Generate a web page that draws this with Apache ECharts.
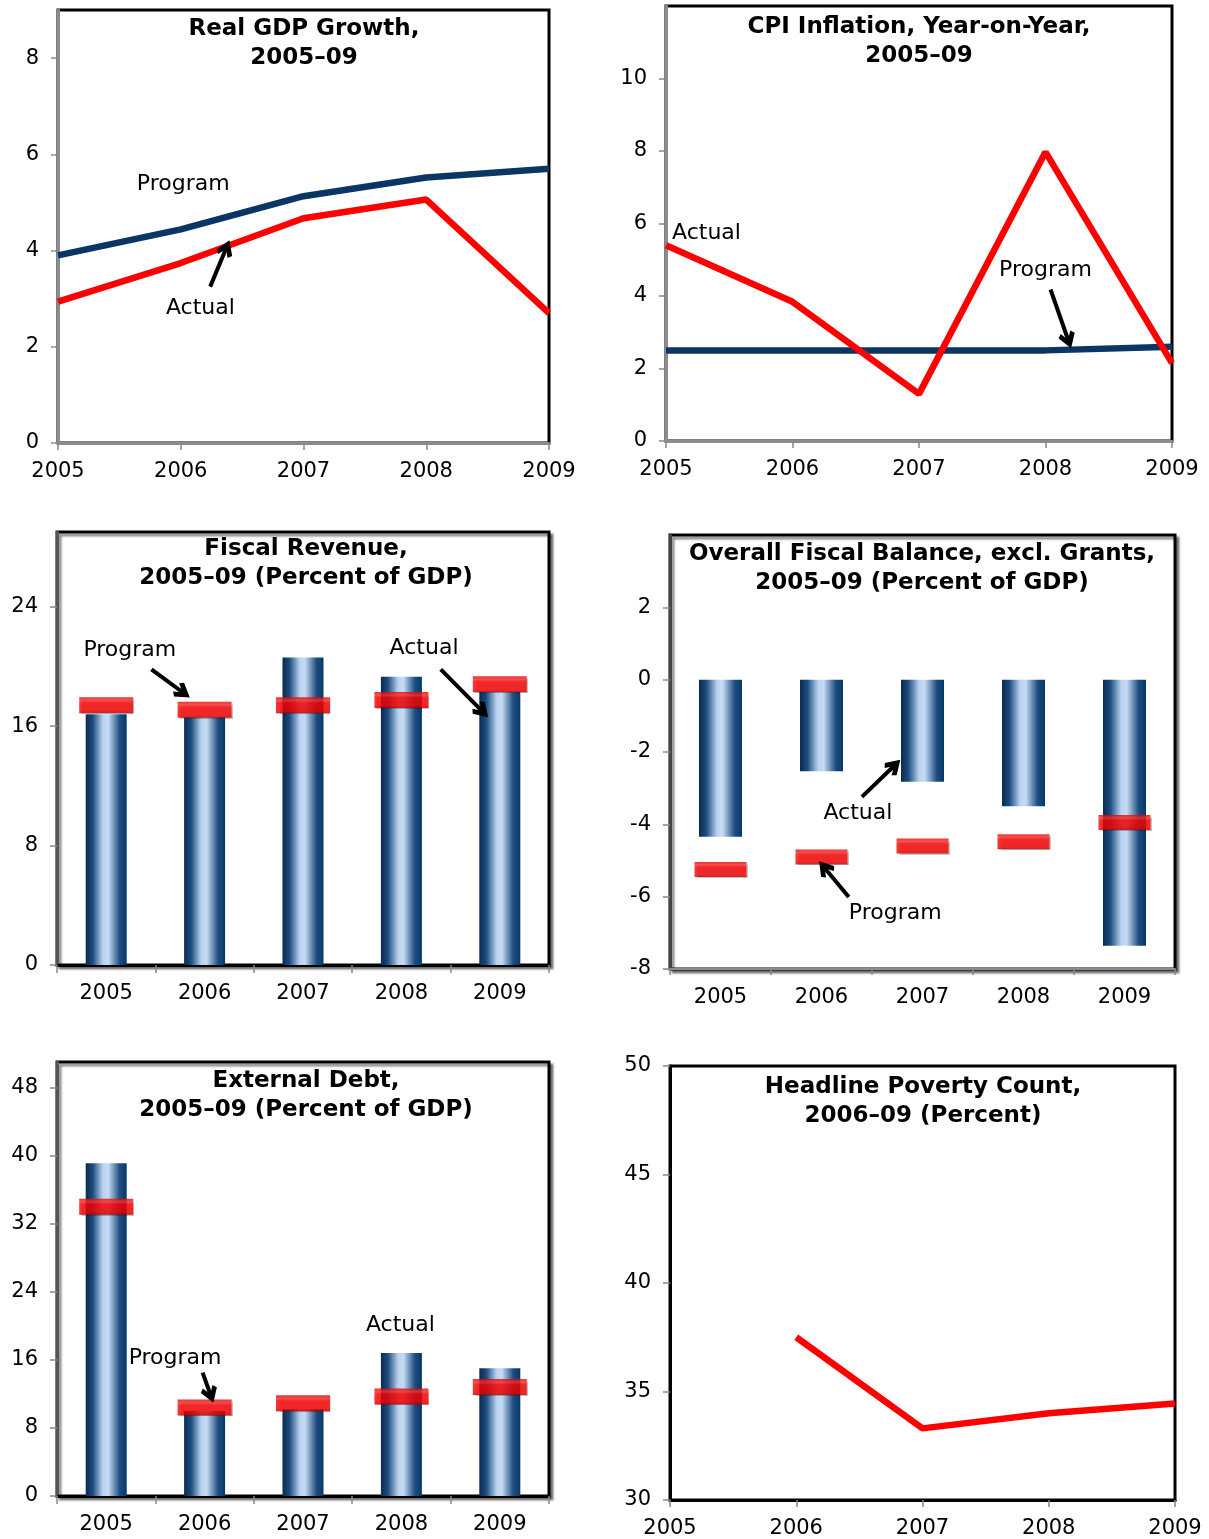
<!DOCTYPE html>
<html><head><meta charset="utf-8">
<script src="https://cdn.jsdelivr.net/npm/echarts@6/dist/echarts.min.js"></script>
<style>html,body{margin:0;padding:0;background:#fff}#c{width:1209px;height:1539px}</style>
</head><body><div id="c"></div>
<script>
// ---------------- DATA ----------------
const years = ['2005', '2006', '2007', '2008', '2009'];

const gdpProgram = [3.90, 4.44, 5.13, 5.52, 5.70];
const gdpActual  = [2.94, 3.74, 4.67, 5.06, 2.70];

const cpiActual  = [5.40, 3.84, 1.30, 7.97, 2.15];
const cpiProgram = [2.50, 2.50, 2.50, 2.50, 2.60];

const revActual  = [16.8, 16.6, 20.6, 19.3, 18.3];
const revProgram = [17.4, 17.1, 17.4, 17.75, 18.8];

const balActual  = [-4.34, -2.53, -2.82, -3.50, -7.36];
const balProgram = [-5.25, -4.90, -4.60, -4.48, -3.95];

const debtActual  = [39.1, 10.0, 10.2, 16.8, 15.0];
const debtProgram = [34.0, 10.4, 10.9, 11.7, 12.8];

const povertyActual = [null, 37.5, 33.3, 34.0, 34.45];

// axis ranges [min, max, interval]
const gdpAxis  = [0, 9, 2];
const cpiAxis  = [0, 12, 2];
const revAxis  = [0, 29, 8];
const balAxis  = [-8, 4, 2];
const debtAxis = [0, 51, 8];
const povAxis  = [30, 50, 5];

const titles = [
  'Real GDP Growth,\n2005\u201309',
  'CPI Inflation, Year-on-Year,\n2005\u201309',
  'Fiscal Revenue,\n2005\u201309 (Percent of GDP)',
  'Overall Fiscal Balance, excl. Grants,\n2005\u201309 (Percent of GDP)',
  'External Debt,\n2005\u201309 (Percent of GDP)',
  'Headline Poverty Count,\n2006\u201309 (Percent)'
];

// ---------------- LAYOUT ----------------
const FONT = 'DejaVu Sans';
const NAVY = '#0b3563';
const RED = '#ff0000';
const gridBoxes = [
  {left: 58,  top: 10,   width: 491, height: 433},
  {left: 666, top: 6,    width: 506, height: 435},
  {left: 57,  top: 532,  width: 492, height: 433},
  {left: 670, top: 535,  width: 505, height: 434},
  {left: 57,  top: 1062, width: 492, height: 434},
  {left: 670, top: 1066, width: 505, height: 434}
];
const titlePos = [[304, 44], [919, 42], [306, 564], [922, 569], [306, 1095.5], [923, 1102]];
const shadowed = [false, false, true, true, true, false];

const grid = gridBoxes.map((b, i) => Object.assign({
  show: true, borderColor: '#000', borderWidth: 3, backgroundColor: '#fff',
  containLabel: false, outerBoundsMode: 'none'
}, shadowed[i] ? {shadowColor: 'rgba(0,0,0,0.45)', shadowOffsetX: 3, shadowOffsetY: 3, shadowBlur: 2} : {}, b));

const barGrad = () => new echarts.graphic.LinearGradient(0, 0, 1, 0, [
  {offset: 0, color: '#0a2a50'}, {offset: 0.17, color: '#1c4c7e'},
  {offset: 0.42, color: '#b9d2ef'}, {offset: 0.55, color: '#c6dbf4'},
  {offset: 0.83, color: '#1d4d80'}, {offset: 1, color: '#063867'}
]);
const redGrad = () => new echarts.graphic.LinearGradient(0, 0, 0, 1, [
  {offset: 0, color: '#e40000'}, {offset: 0.2, color: '#ff3030'},
  {offset: 0.36, color: '#ff0000'}, {offset: 0.85, color: '#f80000'},
  {offset: 1, color: '#c00000'}
]);

const xAxis = [], yAxis = [], series = [];

function catAxis(g, boundaryGap, lineColor, tickOpts) {
  return {
    type: 'category', gridIndex: g, data: years, position: 'bottom', boundaryGap: boundaryGap,
    axisLine: {show: true, onZero: false, lineStyle: {color: lineColor, width: 3}},
    axisTick: Object.assign({show: true, length: 7, lineStyle: {color: '#888', width: 1.5}}, tickOpts || {}),
    axisLabel: {show: true, margin: 18, color: '#000', fontSize: 21, fontFamily: FONT, interval: 0},
    splitLine: {show: false}
  };
}
function hiddenAxis(g, boundaryGap) {
  return {type: 'value', gridIndex: g, show: false, position: 'top',
    min: boundaryGap ? -0.5 : 0, max: boundaryGap ? 4.5 : 4};
}
function valAxis(g, rng, lineColor, hideMax) {
  return {
    type: 'value', gridIndex: g, min: rng[0], max: rng[1], interval: rng[2],
    axisLine: {show: true, onZero: false, lineStyle: {color: lineColor, width: 3}},
    axisTick: {show: true, length: 7, lineStyle: {color: '#888', width: 1.5}},
    axisLabel: {show: true, margin: 19, color: '#000', fontSize: 21, fontFamily: FONT, showMaxLabel: !hideMax,
      formatter: v => (Math.abs((v - rng[0]) % rng[2]) < 1e-9 ? String(v) : '')},
    splitLine: {show: false}
  };
}
function lineSeries(g, data, color) {
  return {type: 'line', xAxisIndex: 2 * g, yAxisIndex: g, data: data, symbol: 'none', smooth: false,
    lineStyle: {color: color, width: 6.5}, z: 3, silent: true, connectNulls: false};
}
function barSeries(g, data, w) {
  return {type: 'bar', xAxisIndex: 2 * g, yAxisIndex: g, data: data, barWidth: w,
    itemStyle: {color: barGrad()}, z: 2, silent: true};
}
function markerSeries(g, data, size) {
  return {type: 'scatter', xAxisIndex: 2 * g, yAxisIndex: g, data: data, symbol: 'rect', symbolSize: size,
    itemStyle: {color: redGrad(), shadowColor: 'rgba(0,0,0,0.3)', shadowOffsetX: 1, shadowOffsetY: 1, shadowBlur: 1}, z: 4, silent: true};
}
const CHEV = 'path://M10,0 L20,11 L16,14 L10,7.5 L4,14 L0,11 Z';
function arrowSeries(g, coords) {
  return {type: 'lines', coordinateSystem: 'cartesian2d', xAxisIndex: 2 * g + 1, yAxisIndex: g,
    polyline: false, symbol: ['none', CHEV], symbolSize: 17, silent: true, z: 10,
    lineStyle: {color: '#000', width: 4, opacity: 1, curveness: 0},
    data: coords.map(c => ({coords: c}))};
}
function textSeries(g, items) {
  return {type: 'scatter', xAxisIndex: 2 * g + 1, yAxisIndex: g, symbolSize: 0.1, silent: true, z: 11,
    itemStyle: {color: '#000', opacity: 1},
    label: {show: true, position: 'inside', formatter: '{b}', color: '#000', opacity: 1,
      textBorderWidth: 0, fontSize: 22, fontFamily: FONT},
    data: items.map(t => ({name: t[0], value: [t[1], t[2]]}))};
}

// Panel 0: Real GDP growth
xAxis.push(catAxis(0, false, '#8c8c8c'), hiddenAxis(0, false));
yAxis.push(valAxis(0, gdpAxis, '#8c8c8c', true));
series.push(lineSeries(0, gdpProgram, NAVY), lineSeries(0, gdpActual, RED));
series.push(textSeries(0, [['Program', 1.02, 5.38], ['Actual', 1.16, 2.80]]));
series.push(arrowSeries(0, [[[1.24, 3.25], [1.37, 4.05]]]));

// Panel 1: CPI inflation
xAxis.push(catAxis(1, false, '#8c8c8c'), hiddenAxis(1, false));
yAxis.push(valAxis(1, cpiAxis, '#8c8c8c', true));
series.push(lineSeries(1, cpiProgram, NAVY), lineSeries(1, cpiActual, RED));
series.push(textSeries(1, [['Actual', 0.32, 5.72], ['Program', 3.0, 4.70]]));
series.push(arrowSeries(1, [[[3.04, 4.18], [3.18, 2.78]]]));

// Panel 2: Fiscal revenue
xAxis.push(catAxis(2, true, '#000', {length: 8}), hiddenAxis(2, true));
yAxis.push(valAxis(2, revAxis, '#555', true));
series.push(barSeries(2, revActual, 41), markerSeries(2, revProgram, [54, 16]));
series.push(textSeries(2, [['Program', 0.24, 21.1], ['Actual', 3.23, 21.2]]));
series.push(arrowSeries(2, [[[0.46, 19.8], [0.78, 18.25]], [[3.40, 19.8], [3.82, 17.0]]]));

// Panel 3: Overall fiscal balance
const balCat = catAxis(3, true, '#000');
balCat.axisLine.show = false; balCat.axisTick.show = false;
xAxis.push(balCat, hiddenAxis(3, true));
yAxis.push(valAxis(3, balAxis, '#444', true));
series.push(barSeries(3, balActual, 43), markerSeries(3, balProgram, [52, 15]));
series.push(textSeries(3, [['Actual', 1.36, -3.69], ['Program', 1.73, -6.46]]));
series.push(arrowSeries(3, [[[1.40, -3.24], [1.72, -2.38]], [[1.27, -6.01], [1.03, -5.2]]]));

// Panel 4: External debt
xAxis.push(catAxis(4, true, '#000', {length: 8}), hiddenAxis(4, true));
yAxis.push(valAxis(4, debtAxis, '#555', true));
series.push(barSeries(4, debtActual, 41), markerSeries(4, debtProgram, [54, 16]));
series.push(textSeries(4, [['Program', 0.70, 16.2], ['Actual', 2.99, 20.05]]));
series.push(arrowSeries(4, [[[0.98, 14.5], [1.06, 11.9]]]));

// Panel 5: Poverty
xAxis.push(catAxis(5, false, '#000'), hiddenAxis(5, false));
yAxis.push(valAxis(5, povAxis, '#000', false));
series.push(lineSeries(5, povertyActual, RED));

// extra zero line axis for the fiscal balance panel (index 12)
xAxis.push({
  type: 'category', gridIndex: 3, data: years, position: 'bottom', boundaryGap: true,
  axisLine: {show: true, onZero: true, lineStyle: {color: '#8c8c8c', width: 2}},
  axisTick: {show: true, length: 6, lineStyle: {color: '#888', width: 1.5}},
  axisLabel: {show: false}, splitLine: {show: false}, z: 1
});

const graphic = titles.map((t, i) => ({
  type: 'text', x: titlePos[i][0], y: titlePos[i][1], z: 50, silent: true,
  style: {text: t, fill: '#000', fontSize: 23, fontWeight: 'bold', fontFamily: FONT,
    align: 'center', verticalAlign: 'middle', lineHeight: 29}
}));

const chart = echarts.init(document.getElementById('c'), null, {renderer: 'canvas'});
chart.setOption({
  animation: false,
  backgroundColor: '#fff',
  grid: grid,
  xAxis: xAxis,
  yAxis: yAxis,
  series: series,
  graphic: graphic
});
</script>
</body></html>
